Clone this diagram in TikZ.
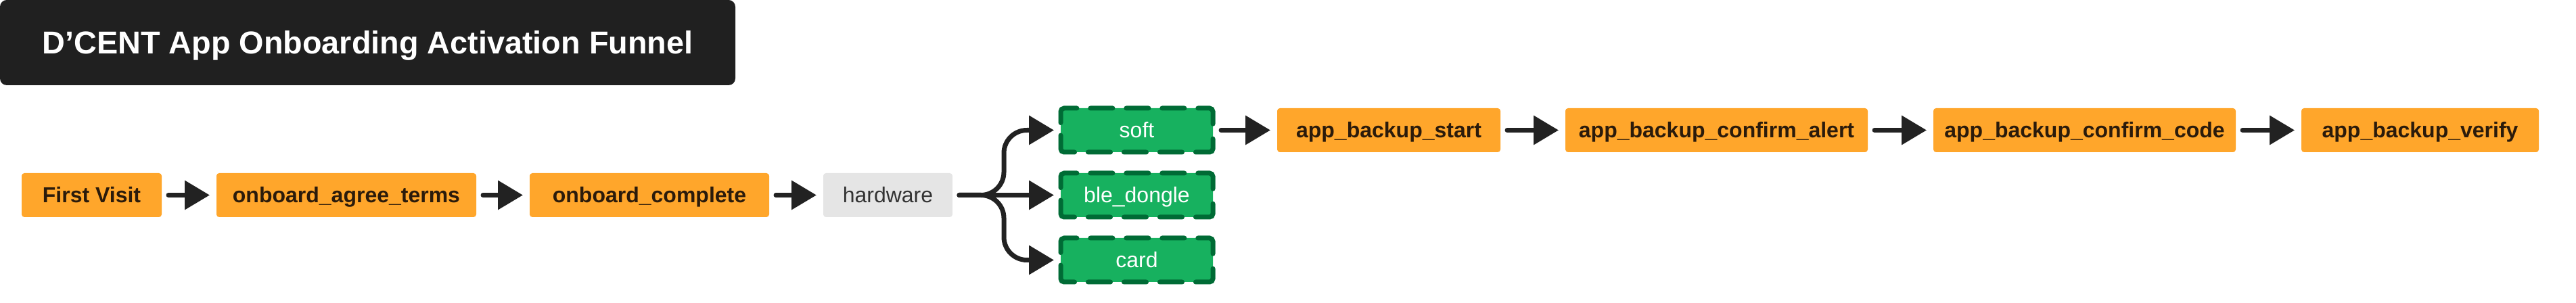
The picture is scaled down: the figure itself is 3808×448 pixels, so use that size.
\documentclass[tikz,border=0pt]{standalone}
\usepackage{fontspec}
\setmainfont{Liberation Sans}
\usetikzlibrary{arrows.meta}
\definecolor{titlebg}{HTML}{202020}
\definecolor{orng}{HTML}{FFA62B}
\definecolor{evtext}{HTML}{2B1B0B}
\definecolor{grayfill}{HTML}{E5E5E5}
\definecolor{graytext}{HTML}{333333}
\definecolor{grn}{HTML}{17B15F}
\definecolor{grnd}{HTML}{006B35}
\definecolor{arrc}{HTML}{222222}
\tikzset{
  basebox/.style={rounded corners=1pt, inner sep=0pt, outer sep=0pt, minimum height=16.25pt,
    text height=5.75pt, text depth=0pt, font=\fontsize{8}{9.6}\selectfont, minimum width=#1},
  evbox/.style={basebox=#1, fill=orng, text=evtext, font=\bfseries\fontsize{8}{9.6}\selectfont},
  hwbox/.style={basebox=#1, fill=grayfill, text=graytext},
  optbox/.style={basebox=#1, fill=grn, text=white, rounded corners=1.25pt},
  optborder/.style={draw=grnd, line width=1.75pt, line cap=round, rounded corners=1.25pt,
    dash pattern=on 10.75pt off 5pt on 8.25pt off 5pt on 8.25pt off 5pt on 8.25pt off 5pt on 10.75pt off 5.5pt,
    dash phase=69pt},
  arr/.style={draw=arrc, line width=1.75pt, line cap=round,
    -{Triangle[length=9.25pt,width=10.5pt]}, shorten <=2.5pt, shorten >=2.5pt},
}
\begin{document}
\begin{tikzpicture}[x=0.25pt,y=-0.25pt]
\useasboundingbox (0,0) rectangle (3808,448);
\node (title) [fill=titlebg, rounded corners=2.5pt, inner sep=0pt, outer sep=0pt,
  minimum width=271.75pt, minimum height=31.5pt, text height=8.4pt, text depth=0pt,
  text=white, font=\bfseries\fontsize{11.7}{14}\selectfont]
  at (543.5,63) {D’CENT App Onboarding Activation Funnel};

\node (fv)     [evbox=51.75pt]  at (135.5,288.5) {First Visit};
\node (agree)  [evbox=96pt]     at (512,288.5)   {onboard\_agree\_terms};
\node (compl)  [evbox=88.5pt]   at (960,288.5)   {onboard\_complete};
\node (hw)     [hwbox=47.75pt]  at (1312.5,288.5) {hardware};
\node (soft)   [optbox=56.25pt] at (1680.5,192.5) {soft};
\node (ble)    [optbox=56.25pt] at (1680.5,288.5) {ble\_dongle};
\node (card)   [optbox=56.25pt] at (1680.5,384.5) {card};
\node (start)  [evbox=82.5pt]   at (2053,192.5)  {app\_backup\_start};
\node (alert)  [evbox=111.75pt] at (2537.5,192.5) {app\_backup\_confirm\_alert};
\node (code)   [evbox=111.75pt] at (3081.5,192.5) {app\_backup\_confirm\_code};
\node (verify) [evbox=87.75pt]  at (3577.5,192.5) {app\_backup\_verify};

\foreach \n in {soft,ble,card}{
  \draw[optborder] (\n.west) |- (\n.north east) |- (\n.south west) -- (\n.west);
}

\coordinate (fork) at (1484,288.5);
\draw[arr] (fv) -- (agree);
\draw[arr] (agree) -- (compl);
\draw[arr] (compl) -- (hw);
\draw[arr, rounded corners=8.5pt] (hw.east) -- (fork) |- (soft.west);
\draw[arr] (hw.east) -- (ble.west);
\draw[arr, rounded corners=8.5pt] (hw.east) -- (fork) |- (card.west);
\draw[arr, shorten <=3pt] (soft) -- (start);
\draw[arr] (start) -- (alert);
\draw[arr] (alert) -- (code);
\draw[arr] (code) -- (verify);
\end{tikzpicture}
\end{document}
